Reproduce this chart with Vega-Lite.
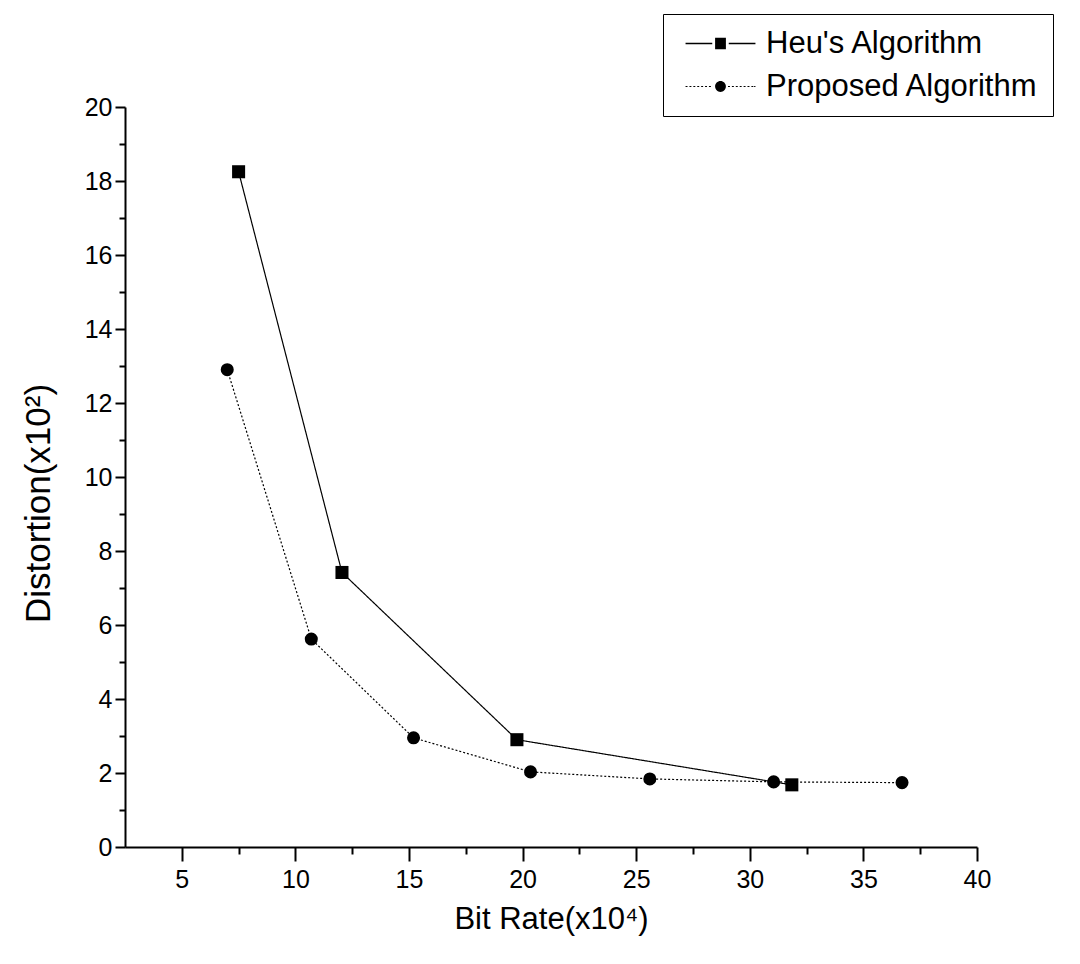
{
  "$schema": "https://vega.github.io/schema/vega-lite/v6.json",
  "width": 852,
  "height": 740,
  "autosize": {"type": "none"},
  "padding": {"left": 125, "top": 107, "right": 103, "bottom": 117},
  "background": "white",
  "config": {
    "view": {"stroke": null},
    "font": "Liberation Sans",
    "axis": {
      "grid": false,
      "domainColor": "black",
      "domainWidth": 2,
      "tickColor": "black",
      "tickWidth": 2,
      "labelColor": "black",
      "labelFont": "Liberation Sans",
      "labelFontSize": 25,
      "titleFont": "Liberation Sans",
      "titleFontWeight": "normal",
      "titleColor": "black"
    }
  },
  "data": {
    "values": [
      {"series": "Heu's Algorithm", "rate": 7.5, "dist": 18.25},
      {"series": "Heu's Algorithm", "rate": 12.05, "dist": 7.42},
      {"series": "Heu's Algorithm", "rate": 19.75, "dist": 2.9},
      {"series": "Heu's Algorithm", "rate": 31.85, "dist": 1.68},
      {"series": "Proposed Algorithm", "rate": 7.0, "dist": 12.9},
      {"series": "Proposed Algorithm", "rate": 10.7, "dist": 5.62},
      {"series": "Proposed Algorithm", "rate": 15.2, "dist": 2.95},
      {"series": "Proposed Algorithm", "rate": 20.35, "dist": 2.03},
      {"series": "Proposed Algorithm", "rate": 25.6, "dist": 1.84},
      {"series": "Proposed Algorithm", "rate": 31.05, "dist": 1.76},
      {"series": "Proposed Algorithm", "rate": 36.7, "dist": 1.74}
    ]
  },
  "encoding": {
    "x": {
      "field": "rate",
      "type": "quantitative",
      "scale": {"domain": [2.5, 40], "nice": false, "zero": false},
      "axis": {
        "title": "Bit Rate(x10⁴)",
        "titleFontSize": 31,
        "values": [5, 7.5, 10, 12.5, 15, 17.5, 20, 22.5, 25, 27.5, 30, 32.5, 35, 37.5, 40],
        "labelExpr": "datum.value % 5 === 0 ? datum.label : ''",
        "tickSize": {"condition": {"test": "datum.value % 5 === 0", "value": 14}, "value": 7},
        "labelPadding": 6,
        "titlePadding": 12,
        "labelFlush": false,
        "labelOverlap": false
      }
    },
    "y": {
      "field": "dist",
      "type": "quantitative",
      "scale": {"domain": [0, 20], "nice": false},
      "axis": {
        "title": "Distortion(x10²)",
        "titleFontSize": 35,
        "titleY": 396,
        "values": [0, 1, 2, 3, 4, 5, 6, 7, 8, 9, 10, 11, 12, 13, 14, 15, 16, 17, 18, 19, 20],
        "labelExpr": "datum.value % 2 === 0 ? datum.label : ''",
        "tickSize": {"condition": {"test": "datum.value % 2 === 0", "value": 10}, "value": 6},
        "labelPadding": 3,
        "titlePadding": 28,
        "labelFlush": false,
        "labelOverlap": false
      }
    }
  },
  "layer": [
    {
      "mark": {"type": "line", "color": "black", "strokeWidth": 1.2},
      "encoding": {
        "detail": {"field": "series"},
        "strokeDash": {
          "field": "series",
          "scale": {"domain": ["Heu's Algorithm", "Proposed Algorithm"], "range": [[1, 0], [2, 2]]},
          "legend": null
        }
      }
    },
    {
      "mark": {"type": "point", "filled": true, "color": "black", "opacity": 1},
      "encoding": {
        "shape": {
          "field": "series",
          "scale": {"domain": ["Heu's Algorithm", "Proposed Algorithm"], "range": ["square", "circle"]},
          "legend": null
        },
        "size": {"value": 170}
      }
    },
    {
      "mark": {"type": "point", "filled": true, "color": "black", "opacity": 0},
      "encoding": {
        "shape": {
          "field": "series",
          "scale": {
            "domain": ["Heu's Algorithm", "Proposed Algorithm"],
            "range": [
              "M-2.33,-0.045H-0.55V0.045H-2.33ZM-0.36,-0.38H0.36V0.38H-0.36ZM0.55,-0.045H2.33V0.045H0.55Z",
              "M-2.33,-0.04H-2.2V0.04H-2.33ZM-2.07,-0.04H-1.94V0.04H-2.07ZM-1.81,-0.04H-1.68V0.04H-1.81ZM-1.55,-0.04H-1.42V0.04H-1.55ZM-1.29,-0.04H-1.16V0.04H-1.29ZM-1.03,-0.04H-0.9V0.04H-1.03ZM-0.77,-0.04H-0.64V0.04H-0.77ZM0.36,0A0.36,0.36 0 1,1 -0.36,0A0.36,0.36 0 1,1 0.36,0ZM0.5,-0.04H0.63V0.04H0.5ZM0.76,-0.04H0.89V0.04H0.76ZM1.02,-0.04H1.15V0.04H1.02ZM1.28,-0.04H1.41V0.04H1.28ZM1.54,-0.04H1.67V0.04H1.54ZM1.8,-0.04H1.93V0.04H1.8ZM2.06,-0.04H2.19V0.04H2.06ZM2.24,-0.04H2.33V0.04H2.24Z"
            ]
          },
          "legend": {
            "title": null,
            "orient": "none",
            "legendX": 538,
            "legendY": -93,
            "strokeColor": "black",
            "padding": 14,
            "symbolSize": 900,
            "symbolOffset": 28,
            "symbolOpacity": 1,
            "symbolFillColor": "black",
            "symbolStrokeWidth": 0,
            "labelFont": "Liberation Sans",
            "labelFontSize": 31,
            "labelColor": "black",
            "labelOffset": 30,
            "labelLimit": 400,
            "rowPadding": 11
          }
        },
        "size": {"value": 900}
      }
    }
  ],
  "resolve": {"scale": {"shape": "independent"}, "legend": {"shape": "independent"}}
}
